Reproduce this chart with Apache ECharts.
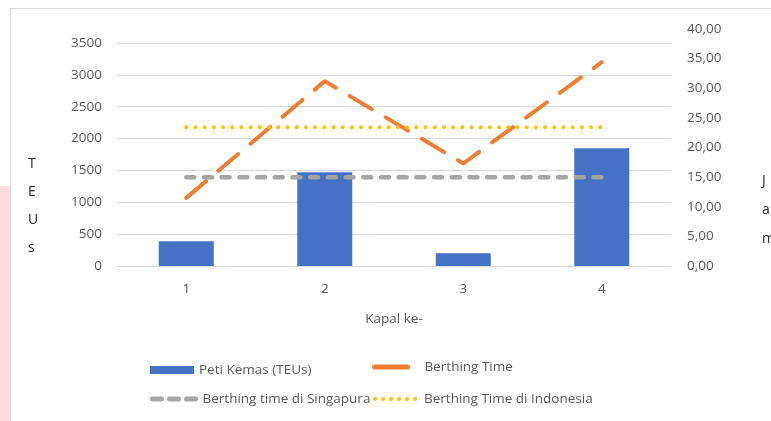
<!DOCTYPE html>
<html>
<head>
<meta charset="utf-8">
<script src="https://cdn.jsdelivr.net/npm/echarts@6/dist/echarts.min.js"></script>
<style>
  html, body { margin: 0; padding: 0; background: #fff; }
  #chart { width: 771px; height: 421px; }
</style>
</head>
<body>
<div id="chart"></div>
<script>
// data
const categories = ['1', '2', '3', '4'];
const petiKemas = [390, 1470, 200, 1850];          // TEUs, left axis
const berthingTime = [11.5, 31.2, 17.3, 34.4];     // jam, right axis
const berthingSingapura = [15, 15, 15, 15];
const berthingIndonesia = [23.4, 23.4, 23.4, 23.4];
const leftTicks = { min: 0, max: 3500, interval: 500 };
const rightTicks = { min: 0, max: 40, interval: 5 };

const font = 'Open Sans';
const txt = '#595959';
const grid = '#d9d9d9';
const fs = 13.5;

const chart = echarts.init(document.getElementById('chart'));

// one legend per item so each can sit where the reference puts it
function legendAt(name, left, top, w, lineStyle, textPad) {
  return {
    data: [{ name: name, itemStyle: { opacity: 0 } }],
    left: left, top: top,
    padding: 0,
    itemWidth: w, itemHeight: 14,
    lineStyle: lineStyle,
    textStyle: { color: txt, fontFamily: font, fontSize: fs, padding: textPad || 0 },
    selectedMode: false
  };
}

const option = {
  animation: false,
  textStyle: { fontFamily: font },
  grid: [
    { left: 117, right: 100, top: 43, bottom: 155 },
    { left: 117, right: 100, top: 29, bottom: 155 }
  ],
  xAxis: [
    {
      type: 'category', gridIndex: 0, data: categories,
      axisLine: { lineStyle: { color: grid } },
      axisTick: { show: false },
      axisLabel: { color: txt, fontSize: fs, margin: 16 },
      name: 'Kapal ke-', nameLocation: 'middle', nameGap: 46,
      nameTextStyle: { color: txt, fontSize: fs }
    },
    { type: 'category', gridIndex: 1, data: categories, show: false }
  ],
  yAxis: [
    {
      type: 'value', gridIndex: 0,
      min: leftTicks.min, max: leftTicks.max, interval: leftTicks.interval,
      axisLine: { show: false }, axisTick: { show: false },
      axisLabel: { color: txt, fontSize: fs, margin: 15, formatter: v => String(v) },
      splitLine: { lineStyle: { color: grid, width: 1 } }
    },
    {
      type: 'value', gridIndex: 1, position: 'right',
      min: rightTicks.min, max: rightTicks.max, interval: rightTicks.interval,
      axisLine: { show: false }, axisTick: { show: false },
      splitLine: { show: false },
      axisLabel: {
        color: txt, fontSize: fs, margin: 16,
        formatter: v => v.toFixed(2).replace('.', ',')
      }
    }
  ],
  legend: [
    {
      data: [{ name: 'Peti Kemas (TEUs)', icon: 'rect' }], left: 150, top: 363, padding: 0,
      itemWidth: 44, itemHeight: 8, selectedMode: false,
      textStyle: { color: txt, fontFamily: font, fontSize: fs }
    },
    legendAt('Berthing Time', 372, 360, 33, { width: 5, type: 'solid', cap: 'round' }, [0, 0, 0, 12]),
    legendAt('Berthing time di Singapura', 150, 392, 45, { width: 5, type: [9, 8], cap: 'round' }),
    legendAt('Berthing Time di Indonesia', 373, 392, 44, { width: 4, type: [0.1, 7.9], cap: 'round' })
  ],
  series: [
    {
      name: 'Peti Kemas (TEUs)', type: 'bar', xAxisIndex: 0, yAxisIndex: 0,
      data: petiKemas, barWidth: 55,
      itemStyle: { color: '#4472c4' }
    },
    {
      name: 'Berthing Time', type: 'line', xAxisIndex: 1, yAxisIndex: 1,
      data: berthingTime, symbol: 'none',
      lineStyle: { color: '#ed7d31', width: 4, type: [26, 16], cap: 'round' },
      itemStyle: { color: '#ed7d31' }
    },
    {
      name: 'Berthing time di Singapura', type: 'line', xAxisIndex: 1, yAxisIndex: 1,
      data: berthingSingapura, symbol: 'none',
      lineStyle: { color: '#a5a5a5', width: 4.5, type: [8, 9.7], cap: 'round' },
      itemStyle: { color: '#a5a5a5' }
    },
    {
      name: 'Berthing Time di Indonesia', type: 'line', xAxisIndex: 1, yAxisIndex: 1,
      data: berthingIndonesia, symbol: 'none',
      lineStyle: { color: '#ffc000', width: 4, type: [0.1, 9.1], cap: 'round' },
      itemStyle: { color: '#ffc000' }
    }
  ],
  graphic: [
    { type: 'rect', left: 0, top: 186, shape: { width: 10, height: 235 }, style: { fill: '#fdd9de' }, silent: true },
    { type: 'line', shape: { x1: 10.5, y1: 8, x2: 10.5, y2: 421 }, style: { stroke: grid, lineWidth: 1 }, silent: true },
    { type: 'line', shape: { x1: 10, y1: 8.5, x2: 771, y2: 8.5 }, style: { stroke: grid, lineWidth: 1 }, silent: true },
    {
      type: 'text', left: 28, top: 150,
      style: { text: 'T\nE\nU\ns', fill: '#262626', font: '14px "Open Sans"', lineHeight: 28, align: 'center' },
      silent: true
    },
    {
      type: 'text', left: 762, top: 167,
      style: { text: 'J\na\nm', fill: '#262626', font: '14px "Open Sans"', lineHeight: 29 },
      silent: true
    }
  ]
};

chart.setOption(option);
window.addEventListener('resize', () => chart.resize());
</script>
</body>
</html>
